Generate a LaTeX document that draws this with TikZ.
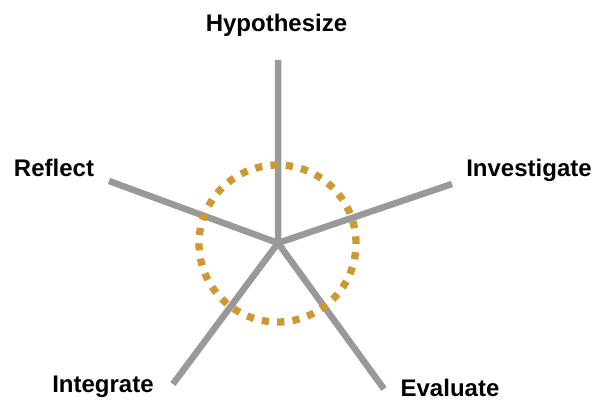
\documentclass[tikz,border=0pt]{standalone}
\usepackage{fontspec}
\setmainfont{Liberation Sans}
\usetikzlibrary{positioning}
\definecolor{spoke-color}{HTML}{999999}
\definecolor{ring-color}{HTML}{CC9933}

\begin{document}
\begin{tikzpicture}[x=1pt, y=-1pt,
                every node/.append style={font=\fontsize{24}{28}\selectfont\bfseries, inner sep=0pt, anchor=base},
                spoke/.style={draw=spoke-color, line width=6.5pt},
                ring/.style={draw=ring-color, line width=7.3pt, dash pattern=on 7.2pt off 8.2pt}]
    \useasboundingbox (0,0) rectangle (595,401);

    % labels
    \node (hyp) at (276.5,32) {Hypothesize};
    \node (inv) at (529,177)  {Investigate};
    \node (eva) at (450,396.5)  {Evaluate};
    \node (int) at (103,392)  {Integrate};
    \node (ref) at (54,177)   {Reflect};

    % spokes
    \coordinate (hub) at (278,243);
    \coordinate (hyp-end) at (278,60);
    \coordinate (inv-end) at (452,184);
    \coordinate (eva-end) at (384,389);
    \coordinate (int-end) at (173,384);
    \coordinate (ref-end) at (109,181);
    \path[spoke] (hub) -- (hyp-end)
                 (hub) -- (inv-end)
                 (hub) -- (eva-end)
                 (hub) -- (int-end)
                 (hub) -- (ref-end);

    % dotted ring
    \draw[ring] (277.5,243.5) circle[radius=78.5pt];
\end{tikzpicture}
\end{document}
